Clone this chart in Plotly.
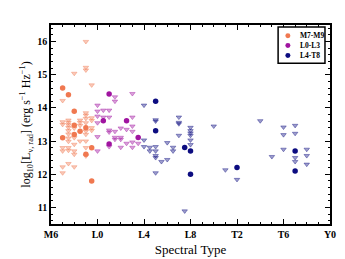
import plotly.graph_objects as go

# Spectral type numeric: M6=-4, L0=0, T0=10, Y0=20
tick_vals = [-4, 0, 4, 8, 12, 16, 20]
tick_text = ["M6", "L0", "L4", "L8", "T2", "T6", "Y0"]

# M7-M9 detections
m_det_x = [-3, -2.5, -3, -2, -2, -2, -1.5, -1, -1, -0.5, -0.5]
m_det_y = [14.6, 14.4, 13.1, 13.9, 13.48, 13.2, 13.3, 13.4, 12.6, 12.8, 11.8]
# M7-M9 upper limits
m_lim_x = ([-3] * 7 + [-2.5] * 11 + [-2] * 7 + [-1.5] * 4 + [-1] * 12 + [-0.5] * 5)
m_lim_y = [14.22, 13.58, 13.5, 12.8, 12.7, 12.22, 12.04,
           13.63, 13.56, 13.49, 13.41, 13.31, 13.21, 13.09, 12.99, 12.8, 12.72, 12.32,
           15.04, 13.39, 13.1, 12.9, 12.7, 12.6, 12.22,
           13.63, 13.56, 13.47, 13.0,
           16.0, 15.22, 15.14, 13.85, 13.78, 13.68, 13.55, 13.3, 13.2, 13.0, 12.8, 12.55,
           14.69, 13.7, 13.62, 13.4, 13.32]

# L0-L3 detections
l_det_x = [1, 0.5, 2.5, 3.5, 1]
l_det_y = [14.42, 13.61, 13.61, 13.11, 12.91]
# L0-L3 upper limits
l_lim_x = ([0] * 6 + [0.5] * 2 + [1] * 5 + [1.5] * 5 + [2] * 4 + [2.5] * 2 + [3] * 6 + [3.5])
l_lim_y = [14.08, 13.9, 13.75, 13.55, 13.13, 12.7,
           13.93, 13.72,
           13.93, 13.72, 13.33, 13.27, 12.83,
           14.33, 14.2, 13.29, 13.11, 13.05,
           13.39, 13.11, 13.05, 12.81,
           13.35, 12.93,
           14.43, 13.72, 13.45, 13.29, 12.97, 12.81,
           12.93]

# L4-T8 detections
t_det_x = [5, 5, 7.5, 8, 8, 12, 17, 17]
t_det_y = [14.2, 13.31, 12.81, 12.7, 12.0, 12.2, 12.7, 12.1]
# L4-T8 upper limits
t_lim_x = ([4] * 3 + [4.5] * 2 + [5] * 7 + [5.5] + [6] * 2 + [6.5] * 2 + [7] * 4 + [7.5]
           + [8] * 6 + [10, 11, 12, 14, 15] + [16] * 3 + [17] * 4 + [18] * 3)
t_lim_y = [14.08, 13.03, 12.83,
           12.81, 12.7,
           13.64, 13.6, 12.83, 12.7, 12.56, 12.5, 12.04,
           12.38,
           12.95, 12.44,
           12.81, 12.7,
           13.72, 13.56, 13.52, 13.17,
           10.89,
           13.41, 13.31, 13.24, 13.17, 13.03, 12.89,
           13.45, 12.13, 11.84, 13.61, 12.53,
           13.42, 13.19, 12.75,
           13.47, 13.23, 12.5, 12.38,
           12.75, 12.56, 12.3]

group_names = ["M7-M9", "L0-L3", "L4-T8"]
group_colors = [(240, 120, 80), (160, 20, 160), (12, 12, 128)]
det_x = [m_det_x, l_det_x, t_det_x]
det_y = [m_det_y, l_det_y, t_det_y]
lim_x = [m_lim_x, l_lim_x, t_lim_x]
lim_y = [m_lim_y, l_lim_y, t_lim_y]

fig = go.Figure()
for i, name in enumerate(group_names):
    r, g, b = group_colors[i]
    fig.add_trace(go.Scatter(
        x=lim_x[i], y=lim_y[i], mode="markers", showlegend=False, hoverinfo="skip",
        marker=dict(symbol="triangle-down", size=4.8,
                    color=f"rgba({r},{g},{b},0.4)",
                    line=dict(color=f"rgba({r},{g},{b},0.5)", width=0.8))))
for i, name in enumerate(group_names):
    r, g, b = group_colors[i]
    fig.add_trace(go.Scatter(
        x=det_x[i], y=det_y[i], mode="markers", name=name, showlegend=False,
        marker=dict(symbol="circle", size=5.5, color=f"rgb({r},{g},{b})",
                    line=dict(width=0))))

axis_common = dict(
    showline=True, linecolor="black", linewidth=1.5, mirror="ticks",
    ticks="inside", ticklen=5, tickwidth=1, tickcolor="black",
    showgrid=False, zeroline=False,
    tickfont=dict(family="Liberation Serif", size=10, color="black", weight="bold"),
)

fig.update_xaxes(**axis_common, range=[-4, 20], tickvals=tick_vals, ticktext=tick_text,
                 minor=dict(ticks="inside", ticklen=2.5, tickwidth=1, tickcolor="black", dtick=1, tick0=0),
                 title=dict(text="Spectral Type", standoff=6,
                            font=dict(family="Liberation Serif", size=13, color="black")))
fig.update_yaxes(**axis_common, range=[10.5, 16.5], dtick=1, tick0=0,
                 minor=dict(ticks="inside", ticklen=2.5, tickwidth=1, tickcolor="black", dtick=0.2, tick0=0),
                 title=dict(text="log<sub>10</sub>[L<sub>ν, rad</sub>] (erg s<sup>−1</sup> Hz<sup>−1</sup>)",
                            standoff=4,
                            font=dict(family="Liberation Serif", size=12, color="black")))

# Manual legend box (paper coords relative to plot area)
shapes = [dict(type="rect", xref="paper", yref="paper", x0=0.814, x1=0.982, y0=0.808, y1=0.990,
               line=dict(color="black", width=1.5), fillcolor="white", layer="above")]
annotations = []
row_y = [0.946, 0.897, 0.847]
for i, name in enumerate(group_names):
    r, g, b = group_colors[i]
    cx, cy = 0.849, row_y[i]
    shapes.append(dict(type="circle", xref="paper", yref="paper",
                       x0=cx - 0.009, x1=cx + 0.009, y0=cy - 0.0123, y1=cy + 0.0123,
                       fillcolor=f"rgb({r},{g},{b})", line=dict(width=0), layer="above"))
    annotations.append(dict(xref="paper", yref="paper", x=0.886, y=cy, text=name,
                            showarrow=False, xanchor="left", yanchor="middle",
                            font=dict(family="Liberation Serif", size=7.5, color="black",
                                      weight="bold")))

fig.update_layout(
    width=345, height=259,
    margin=dict(l=43, r=23, t=17, b=39),
    paper_bgcolor="white", plot_bgcolor="white",
    showlegend=False,
    shapes=shapes, annotations=annotations,
)

fig.write_html("out.html")
